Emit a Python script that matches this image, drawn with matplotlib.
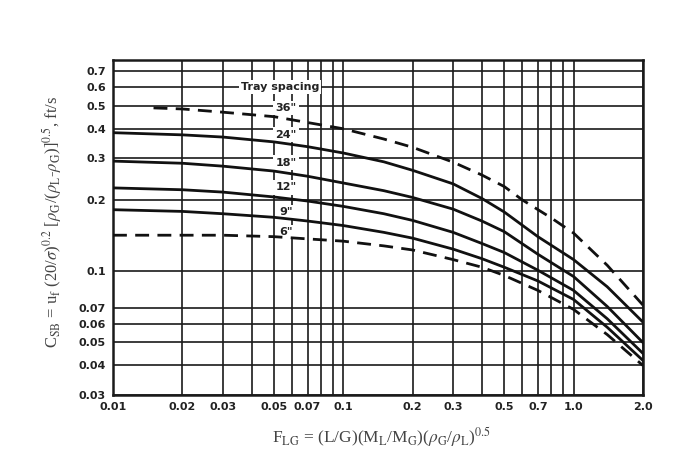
import matplotlib
matplotlib.use("Agg")
from matplotlib import pyplot as plt

# (log-log Fair flooding chart)
flg = [0.01, 0.02, 0.03, 0.05, 0.07, 0.1, 0.15, 0.2, 0.3, 0.4, 0.5, 0.7, 1.0, 1.4, 2.0]
flg_36 = [0.015, 0.02, 0.03, 0.05, 0.07, 0.1, 0.15, 0.2, 0.3, 0.4, 0.5, 0.6, 0.8, 1.0, 1.4, 2.0]
csb_36 = [0.49, 0.485, 0.47, 0.45, 0.425, 0.40, 0.362, 0.334, 0.289, 0.255, 0.228, 0.20, 0.168, 0.145, 0.106, 0.072]
csb_24 = [0.385, 0.377, 0.369, 0.352, 0.336, 0.316, 0.29, 0.267, 0.234, 0.203, 0.178, 0.14, 0.112, 0.086, 0.061]
csb_18 = [0.292, 0.286, 0.278, 0.265, 0.252, 0.236, 0.219, 0.205, 0.183, 0.163, 0.147, 0.118, 0.095, 0.071, 0.050]
csb_12 = [0.225, 0.221, 0.216, 0.206, 0.198, 0.188, 0.175, 0.164, 0.146, 0.131, 0.12, 0.101, 0.083, 0.063, 0.045]
csb_9 = [0.182, 0.179, 0.175, 0.169, 0.163, 0.156, 0.146, 0.138, 0.124, 0.113, 0.104, 0.091, 0.076, 0.058, 0.042]
csb_6 = [0.142, 0.142, 0.142, 0.14, 0.137, 0.134, 0.128, 0.123, 0.112, 0.104, 0.096, 0.083, 0.069, 0.054, 0.040]

spacing_labels = ['36"', '24"', '18"', '12"', '9"', '6"']
label_y = [0.49, 0.378, 0.288, 0.226, 0.178, 0.146]

x_major = [0.01, 0.02, 0.03, 0.05, 0.07, 0.1, 0.2, 0.3, 0.5, 0.7, 1.0, 2.0]
x_major_text = ['0.01', '0.02', '0.03', '0.05', '0.07', '0.1', '0.2', '0.3', '0.5', '0.7', '1.0', '2.0']
x_minor = [0.04, 0.06, 0.08, 0.09, 0.4, 0.6, 0.8, 0.9]
y_major = [0.03, 0.04, 0.05, 0.06, 0.07, 0.1, 0.2, 0.3, 0.4, 0.5, 0.6, 0.7]
y_major_text = ['0.03', '0.04', '0.05', '0.06', '0.07', '0.1', '0.2', '0.3', '0.4', '0.5', '0.6', '0.7']

plt.rcParams['mathtext.fontset'] = 'stix'

fig = plt.figure(figsize=(7, 4.69), dpi=100)
ax = fig.add_axes([0.1614, 0.1578, 0.757, 0.714])
ax.set_xscale('log')
ax.set_yscale('log')
ax.set_xlim(0.01, 2.0)
ax.set_ylim(0.03, 0.78)

ax.set_xticks(x_major, x_major_text)
ax.set_xticks(x_minor, minor=True)
ax.set_yticks(y_major, y_major_text)
ax.set_yticks([], minor=True)
ax.tick_params(which='both', length=0, labelsize=8, pad=5)
for t in ax.get_xticklabels() + ax.get_yticklabels():
    t.set_fontweight('bold')
    t.set_color('#222222')
ax.grid(True, which='both', color='#1a1a1a', lw=1.2)
for s in ax.spines.values():
    s.set_linewidth(1.8)
    s.set_color('#1a1a1a')

kw = dict(color='#111111', lw=2.0, zorder=3)
ax.plot(flg_36, csb_36, ls=(0, (5, 3)), **kw)
ax.plot(flg, csb_24, **kw)
ax.plot(flg, csb_18, **kw)
ax.plot(flg, csb_12, **kw)
ax.plot(flg, csb_9, **kw)
ax.plot(flg, csb_6, ls=(0, (5, 3)), **kw)

# white boxes break the grid but leave the curves on top
box = dict(facecolor='white', edgecolor='none', pad=1.5)
ax.text(0.0532, 0.6, 'Tray spacing', ha='center', va='center', fontsize=8,
        fontweight='bold', color='#222222', bbox=box, zorder=2.5)
for lab, yy in zip(spacing_labels, label_y):
    ax.text(0.0565, yy, lab, ha='center', va='center', fontsize=8,
            fontweight='bold', color='#222222', bbox=box, zorder=2.5)

fig.text(52 / 700, 1 - 222 / 469,
         r'C$_{\rm SB}$ = u$_{\rm f}$ (20/$\sigma$)$^{0.2}$ [$\rho_{\rm G}$/($\rho_{\rm L}$-$\rho_{\rm G}$)]$^{0.5}$, ft/s',
         rotation=90, ha='center', va='center', fontsize=12,
         family='Liberation Serif', color='#444444')
fig.text(382 / 700, 1 - 437 / 469,
         r'F$_{\rm LG}$ = (L/G)(M$_{\rm L}$/M$_{\rm G}$)($\rho_{\rm G}$/$\rho_{\rm L}$)$^{0.5}$',
         ha='center', va='center', fontsize=12.5,
         family='Liberation Serif', color='#444444')

plt.savefig('out.png', dpi=100)
